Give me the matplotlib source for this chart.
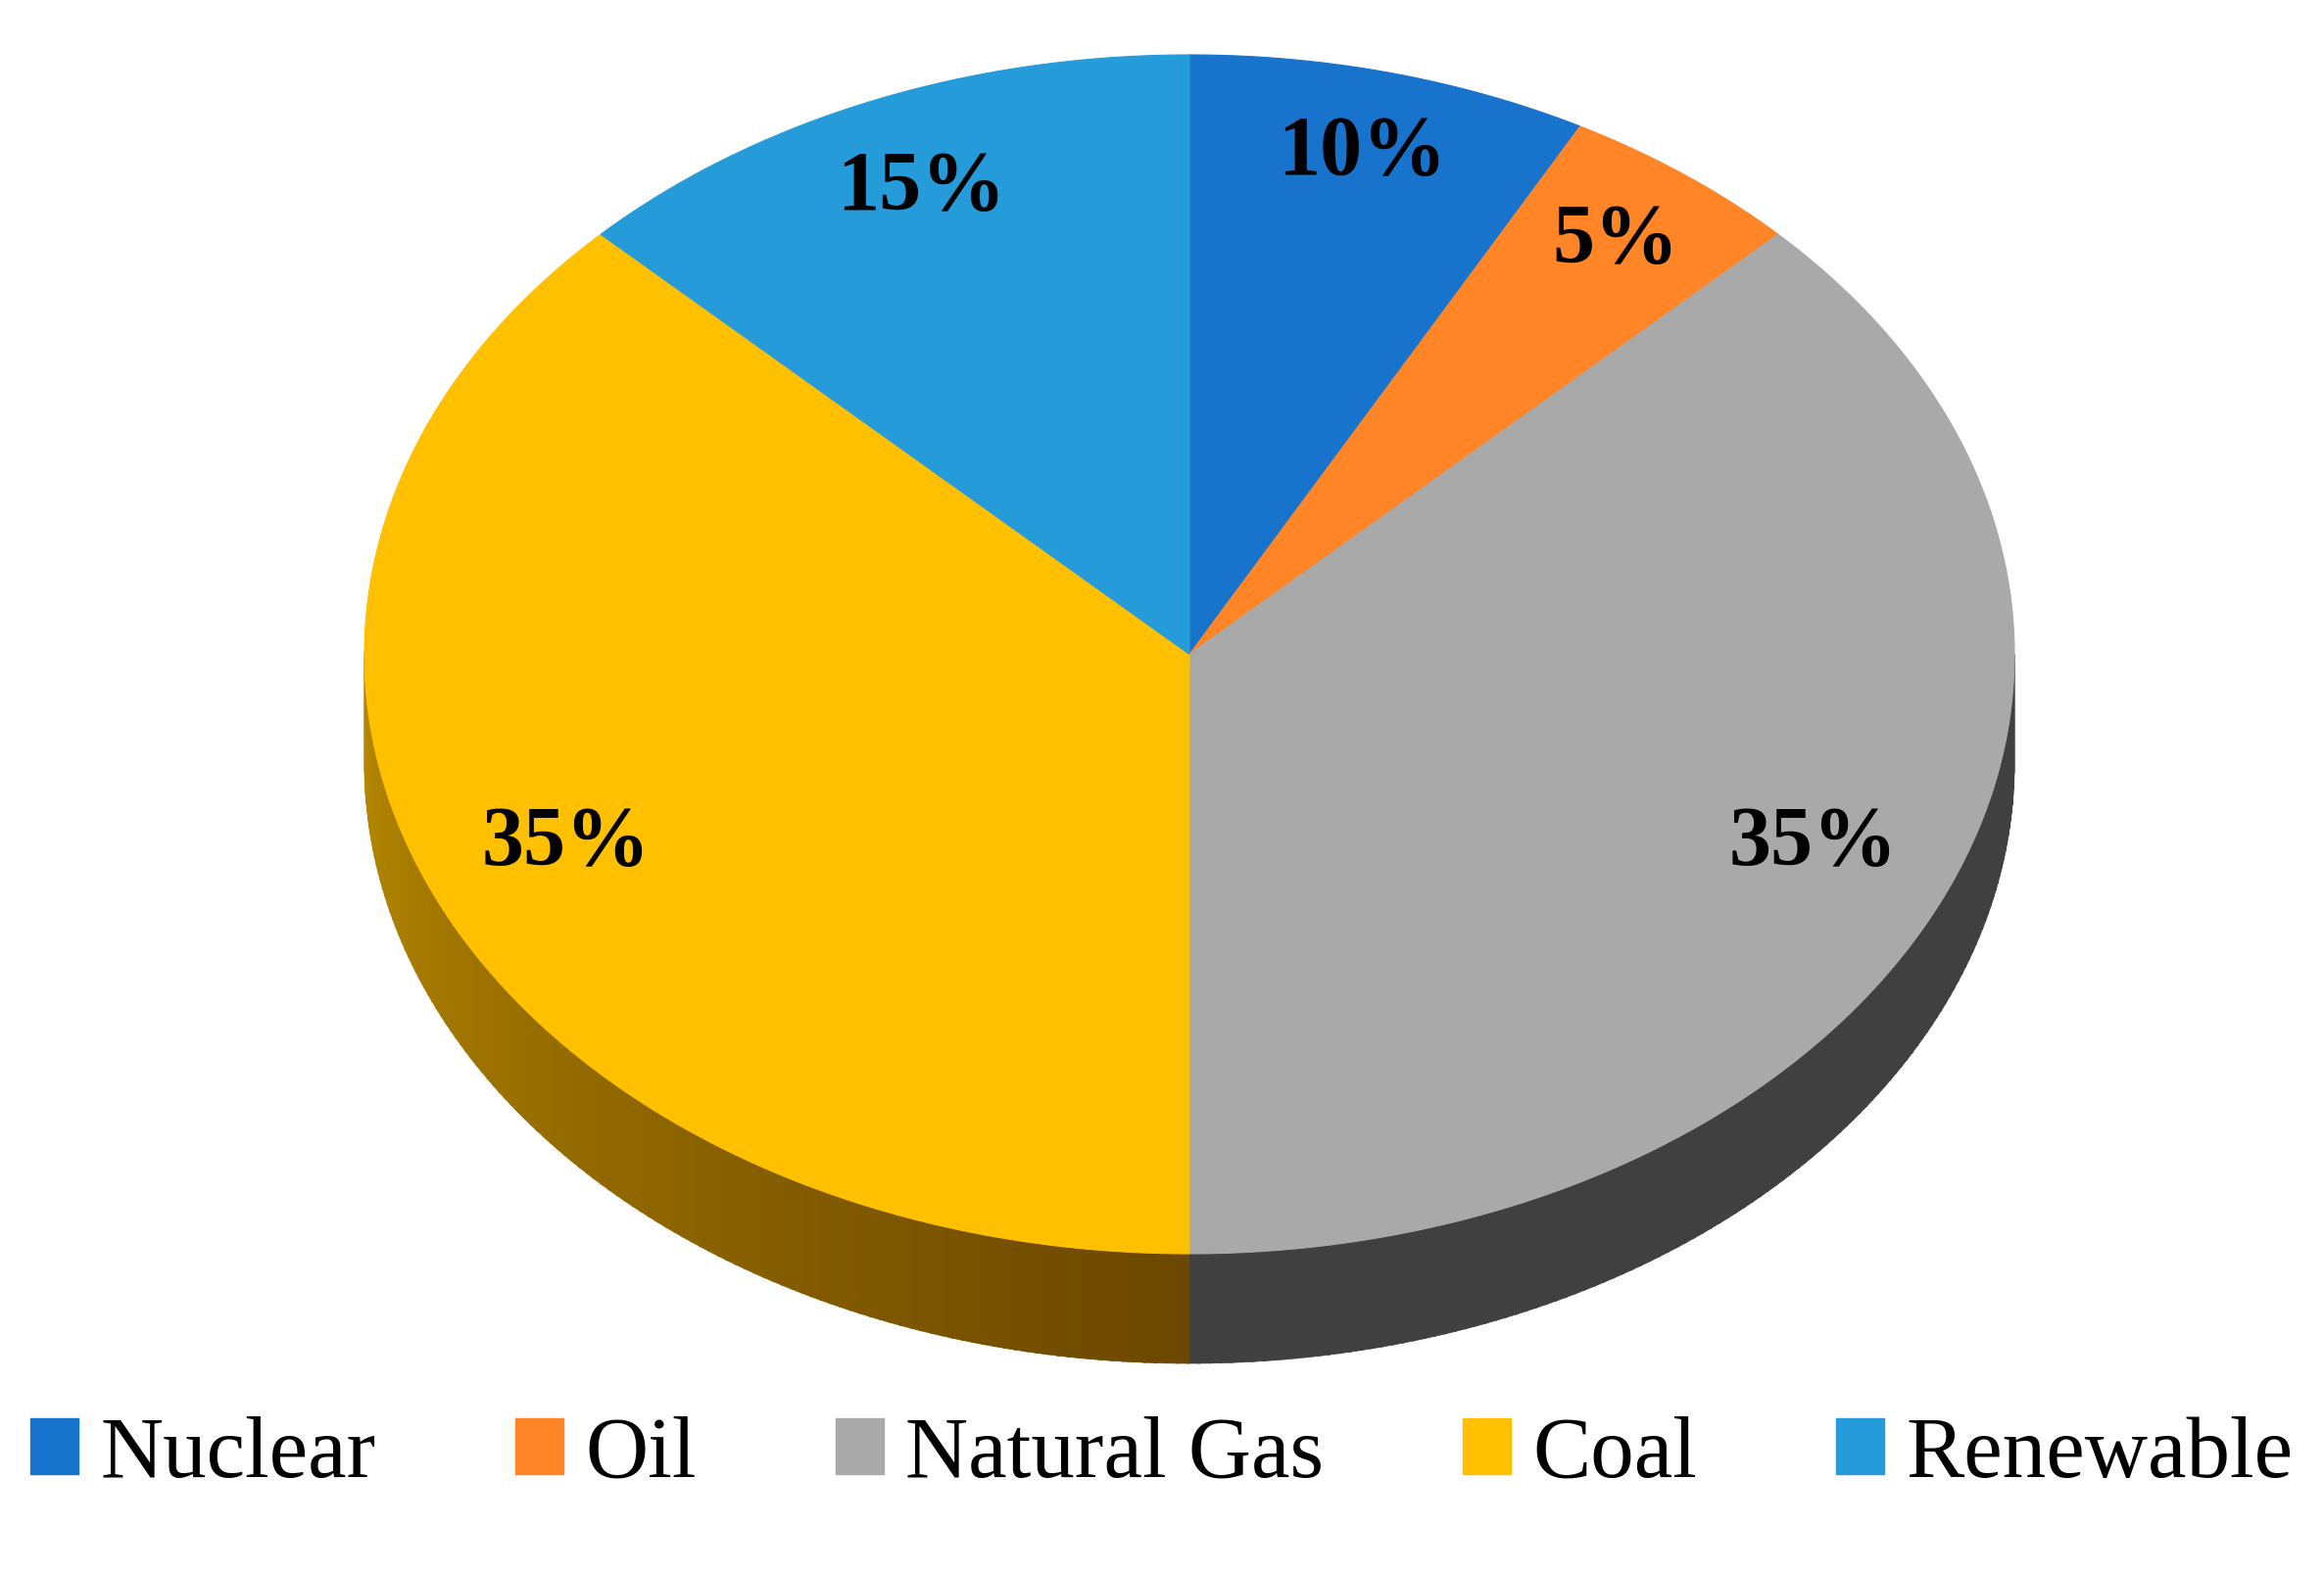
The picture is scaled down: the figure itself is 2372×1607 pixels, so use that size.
import numpy as np
import matplotlib
matplotlib.use("Agg")
import matplotlib.pyplot as plt
from matplotlib.patches import Polygon, Patch

categories = ["Nuclear", "Oil", "Natural Gas", "Coal", "Renewable"]
values = [10, 5, 35, 35, 15]
labels = ["10%", "5%", "35%", "35%", "15%"]
colors = ["#1873CC", "#FF8527", "#A9A9A9", "#FFC000", "#259BDA"]
side_colors = {"Natural Gas": ("#404040", "#404040"), "Coal": ("#6B4700", "#B88A00")}
label_r = [0.86, 0.86, 0.82, 0.82, 0.84]

W, H = 2372, 1607
fig = plt.figure(figsize=(W / 100, H / 100), dpi=100)
ax = fig.add_axes([0, 0, 1, 1])
ax.set_xlim(0, W)
ax.set_ylim(H, 0)
ax.axis("off")

cx, cy, rx, ry, depth = 1214, 668, 842, 612, 112
K = 0.74  # perspective warp of angles

def warp(t):
    return np.unwrap(np.arctan2(np.sin(t) * K, np.cos(t)) % (2 * np.pi)) if np.ndim(t) else np.arctan2(np.sin(t) * K, np.cos(t)) % (2 * np.pi)

def pt(t, r=1.0, dy=0.0):
    return cx + r * rx * np.sin(t), cy - r * ry * np.cos(t) + dy

fr = np.array(values) / sum(values)
edges_raw = np.concatenate([[0], np.cumsum(fr)]) * 2 * np.pi
edges = np.array([np.arctan2(np.sin(e) * K, np.cos(e)) % (2 * np.pi) for e in edges_raw])
edges[-1] = 2 * np.pi

# sides
for i, cat in enumerate(categories):
    a0, a1 = max(edges[i], np.pi / 2), min(edges[i + 1], 3 * np.pi / 2)
    if a1 <= a0:
        continue
    c_dark, c_light = side_colors.get(cat, (colors[i], colors[i]))
    cd = np.array(matplotlib.colors.to_rgb(c_dark))
    cl = np.array(matplotlib.colors.to_rgb(c_light))
    ts = np.linspace(a0, a1, 120)
    for k in range(len(ts) - 1):
        f = (ts[k] - a0) / (a1 - a0)
        col = cd + (cl - cd) * f
        t2 = np.linspace(ts[k], ts[k + 1] + 0.003, 3)
        xs, ys = pt(t2)
        xb, yb = pt(t2[::-1], dy=depth)
        poly = np.column_stack([np.concatenate([xs, xb]), np.concatenate([ys, yb])])
        ax.add_patch(Polygon(poly, closed=True, facecolor=col, edgecolor=col, lw=0.5))

# top faces
for i in range(len(values)):
    ts = np.linspace(edges[i], edges[i + 1], 200)
    xs, ys = pt(ts)
    poly = np.column_stack([np.concatenate([[cx], xs]), np.concatenate([[cy], ys])])
    ax.add_patch(Polygon(poly, closed=True, facecolor=colors[i], edgecolor=colors[i], lw=0.8))
    m = (edges[i] + edges[i + 1]) / 2
    lx, ly = pt(m, label_r[i])
    ax.text(lx, ly, labels[i], ha="center", va="center", fontsize=62,
            fontweight="bold", family="Liberation Serif", color="black")

handles = [Patch(facecolor=c, edgecolor=c) for c in colors]
fig.legend(handles, categories, loc="lower center", ncol=5, frameon=False,
           bbox_to_anchor=(0.5, 0.0), prop={"family": "Liberation Serif", "size": 64},
           handlelength=0.55, handleheight=0.6, handletextpad=0.25, columnspacing=1.6)

fig.savefig("out.png", dpi=100)
